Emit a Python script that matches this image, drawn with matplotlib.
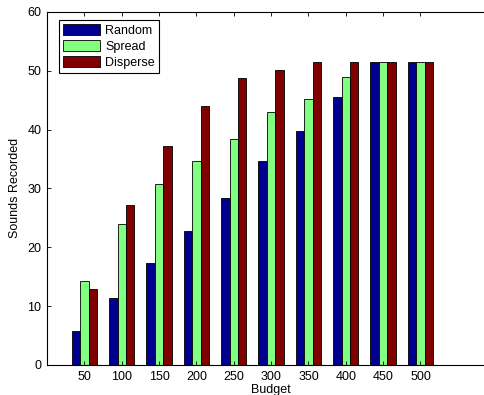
import numpy as np
import matplotlib
matplotlib.use("Agg")
import matplotlib.pyplot as plt

plt.rcParams["font.family"] = ["Liberation Sans", "DejaVu Sans"]
plt.rcParams["font.size"] = 9

budgets = [50, 100, 150, 200, 250, 300, 350, 400, 450, 500]
random_vals = [5.8, 11.3, 17.4, 22.7, 28.4, 34.6, 39.7, 45.5, 51.4, 51.4]
spread_vals = [14.2, 24.0, 30.7, 34.6, 38.4, 43.0, 45.2, 48.9, 51.4, 51.4]
disperse_vals = [12.9, 27.1, 37.2, 44.0, 48.8, 50.2, 51.4, 51.4, 51.4, 51.4]

series = [
    ("Random", random_vals, "#000090"),
    ("Spread", spread_vals, "#80FF80"),
    ("Disperse", disperse_vals, "#800000"),
]

fig = plt.figure(figsize=(4.85, 3.95), dpi=100)
ax = fig.add_axes([0.097, 0.076, 0.924, 0.894])

x = np.arange(1, len(budgets) + 1)
w = 0.226
for i, (name, vals, col) in enumerate(series):
    ax.bar(x + (i - 1) * w, vals, w, color=col, edgecolor="black",
           linewidth=0.6, label=name)

ax.set_xlim(0, 12)
ax.set_ylim(0, 60)
ax.set_xticks(x)
ax.set_xticklabels([str(b) for b in budgets])
ax.set_yticks(range(0, 61, 10))
ax.tick_params(direction="in", top=True, length=3, width=0.6, pad=4)
ax.spines["right"].set_visible(False)
for s in ["left", "top", "bottom"]:
    ax.spines[s].set_linewidth(0.8)

ax.set_xlabel("Budget", labelpad=1)
ax.set_ylabel("Sounds Recorded", labelpad=5)

leg = ax.legend(loc="upper left", bbox_to_anchor=(0.02, 0.985), fancybox=False,
                edgecolor="black", framealpha=1, handlelength=3.0,
                handleheight=1.0, borderpad=0.35, labelspacing=0.25,
                handletextpad=0.4, borderaxespad=0.2, fontsize=9)
leg.get_frame().set_linewidth(0.8)

fig.savefig("out.png", dpi=100)
